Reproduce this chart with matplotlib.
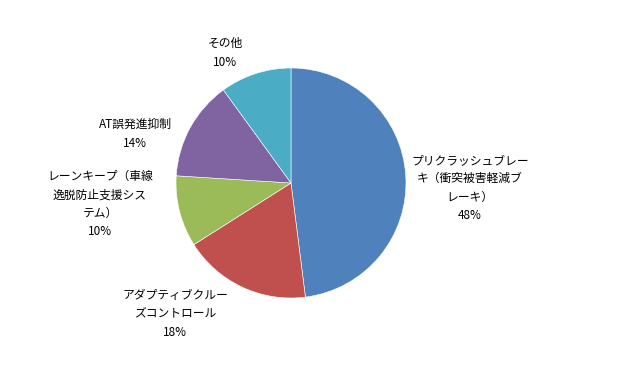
import matplotlib.pyplot as plt

names = ["プリクラッシュブレー\nキ（衝突被害軽減ブ\nレーキ）",
         "アダプティブクルー\nズコントロール",
         "レーンキープ（車線\n逸脱防止支援シス\nテム）",
         "AT誤発進抑制",
         "その他"]
shares = [48, 18, 10, 14, 10]
colors = ["#4F81BD", "#C0504D", "#9BBB59", "#8064A2", "#4BACC6"]

# label block centres in pixel coords (x from left, y from top)
label_px = [(470, 188), (175, 314), (100, 204), (135, 134), (225, 53)]

W, H = 618, 371
cx, cy, r = 291, 183, 115

plt.rcParams['font.family'] = ['Noto Sans CJK JP', 'DejaVu Sans']

fig = plt.figure(figsize=(W / 100, H / 100), dpi=100)
ax = fig.add_axes([0, 0, 1, 1])
ax.pie(shares, colors=colors, startangle=90, counterclock=False,
       wedgeprops=dict(edgecolor="white", linewidth=0.4))
ax.set_xlim(-cx / r, (W - cx) / r)
ax.set_ylim(-(H - cy) / r, cy / r)
ax.set_aspect("auto")
ax.axis("off")

for name, pct, (px, py) in zip(names, shares, label_px):
    ax.text((px - cx) / r, (cy - py) / r, f"{name}\n{pct}%",
            ha="center", va="center", multialignment="center",
            fontsize=8.5, linespacing=1.55, color="black")

fig.savefig("out.png", dpi=100)
